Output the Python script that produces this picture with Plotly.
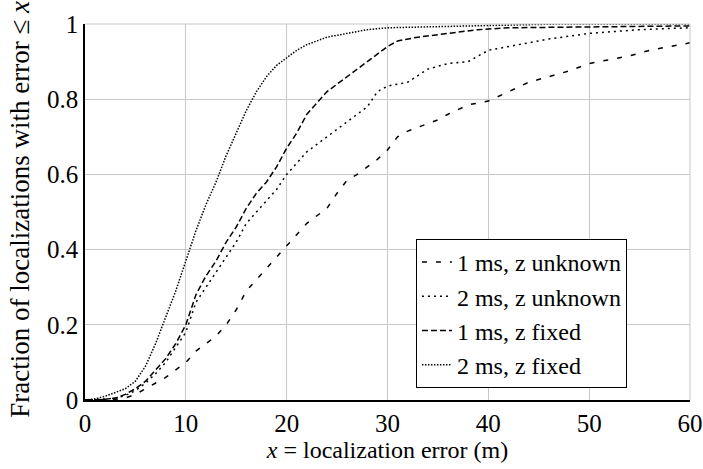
import plotly.graph_objects as go

# 1 ms, z unknown
a_x = [0,3,4,5,6,7,8,9,10,11,12,13,14,15,16,17,18,19,20,21,22,23,24,25,26,27,28,29,30,31,32,33,34,35,36,38,40,42,44,46,48,50,52,54,56,58,60]
a_y = [0,0.002,0.005,0.015,0.03,0.045,0.06,0.08,0.10,0.13,0.15,0.17,0.20,0.24,0.29,0.32,0.35,0.38,0.41,0.44,0.47,0.49,0.51,0.55,0.585,0.60,0.62,0.64,0.665,0.70,0.715,0.725,0.735,0.745,0.76,0.785,0.795,0.82,0.845,0.86,0.875,0.895,0.905,0.915,0.93,0.94,0.95]
# 2 ms, z unknown
b_x = [0,2,3,4,5,6,7,8,9,10,11,12,13,14,15,16,17,18,19,20,21,22,23,24,25,26,27,28,29,30,32,34,36,38,40,43,46,50,55,60]
b_y = [0,0.002,0.005,0.012,0.025,0.045,0.07,0.10,0.14,0.18,0.26,0.30,0.34,0.38,0.42,0.47,0.50,0.53,0.56,0.60,0.63,0.66,0.68,0.70,0.72,0.74,0.76,0.78,0.82,0.835,0.845,0.88,0.895,0.90,0.93,0.945,0.96,0.975,0.985,0.99]
# 1 ms, z fixed
c_x = [0,2,3,4,5,6,7,8,9,10,11,12,13,14,15,16,17,18,19,20,21,22,23,24,25,26,27,28,29,30,31,33,36,39,42,50,60]
c_y = [0,0.002,0.005,0.015,0.03,0.05,0.08,0.11,0.15,0.20,0.28,0.33,0.37,0.42,0.46,0.51,0.55,0.58,0.62,0.67,0.71,0.76,0.79,0.82,0.84,0.86,0.88,0.90,0.92,0.94,0.955,0.965,0.975,0.985,0.99,0.993,0.995]
# 2 ms, z fixed
d_x = [0,1,2,3,4,5,6,7,8,9,10,11,12,13,14,15,16,17,18,19,20,21,22,23,24,26,28,30,35,40,47,60]
d_y = [0,0.003,0.01,0.02,0.03,0.05,0.09,0.15,0.22,0.29,0.37,0.45,0.52,0.58,0.65,0.71,0.77,0.82,0.86,0.89,0.91,0.93,0.945,0.955,0.965,0.975,0.985,0.99,0.993,0.995,1.0,1.0]

x_ticks = [0, 10, 20, 30, 40, 50, 60]
y_ticks = [0, 0.2, 0.4, 0.6, 0.8, 1]
y_tick_text = ["0", "0.2", "0.4", "0.6", "0.8", "1"]

names = ["1 ms, z unknown", "2 ms, z unknown", "1 ms, z fixed", "2 ms, z fixed"]
dashes = ["5px,9px", "2px,4px", "6px,3px", "1.5px,1.5px"]
series = [(a_x, a_y), (b_x, b_y), (c_x, c_y), (d_x, d_y)]

FONT = "Liberation Serif"
FS = 25
fig = go.Figure()
for (xs, ys), n, d in zip(series, names, dashes):
    fig.add_trace(go.Scatter(x=xs, y=ys, mode="lines", name=n,
                             line=dict(color="black", width=1.5, dash=d)))

fig.update_layout(
    width=703, height=469,
    margin=dict(l=85, r=13, t=24, b=69),
    paper_bgcolor="white", plot_bgcolor="white",
    font=dict(family=FONT, size=FS, color="black"),
    showlegend=True,
    legend=dict(x=0.547, y=0.032, xanchor="left", yanchor="bottom",
                bordercolor="black", borderwidth=1, bgcolor="white",
                font=dict(family=FONT, size=24, color="black"), tracegroupgap=0),
)
fig.update_xaxes(range=[0, 60], tickvals=x_ticks, automargin=False,
                 showgrid=True, gridcolor="#c8c8c8", gridwidth=1,
                 showline=True, linecolor="black", linewidth=1.5,
                 zeroline=False, ticks="", tickfont=dict(family=FONT, size=FS, color="black"),
                 title=dict(text="<i>x</i> = localization error (m)",
                            font=dict(family=FONT, size=24, color="black"), standoff=4))
fig.update_yaxes(range=[0, 1], tickvals=y_ticks, ticktext=y_tick_text, automargin=False,
                 showgrid=True, gridcolor="#c8c8c8", gridwidth=1,
                 showline=True, linecolor="black", linewidth=1.5,
                 zeroline=False, ticks="", tickfont=dict(family=FONT, size=FS, color="black"))
fig.add_annotation(text="Fraction of localizations with error ≤ <i>x</i>",
                   xref="paper", yref="paper", x=-0.107, y=-0.053,
                   xanchor="center", yanchor="bottom", textangle=-90, showarrow=False,
                   font=dict(family=FONT, size=27, color="black"))
fig.add_shape(type="line", xref="paper", yref="paper", x0=0, x1=1, y0=1, y1=1,
              line=dict(color="#c8c8c8", width=1))
fig.add_shape(type="line", xref="paper", yref="paper", x0=1, x1=1, y0=0, y1=1,
              line=dict(color="#c8c8c8", width=1))
fig.write_html("out.html", config={"displayModeBar": False},
               post_script="document.body.style.margin='0';document.body.style.overflow='hidden';")
